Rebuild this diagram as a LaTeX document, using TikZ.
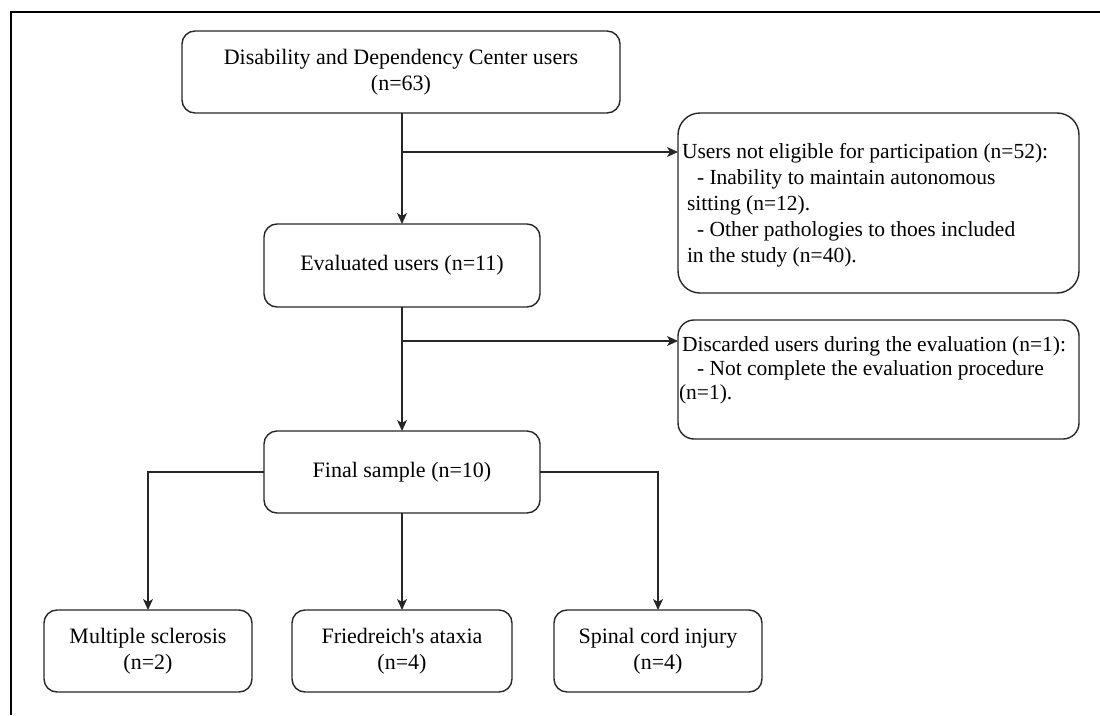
\documentclass[tikz,border=0pt]{standalone}
\usepackage{fontspec}
\setmainfont{Liberation Serif}[Ligatures=TeXOff]
\usetikzlibrary{arrows.meta}
\begin{document}
\begin{tikzpicture}[x=1pt,y=-1pt,
  box/.style={draw=black!85, line width=1.4pt, rounded corners=13pt, align=center,
    inner sep=0pt, outer sep=0pt, font=\fontsize{22}{26}\selectfont},
  sidebox/.style={draw=black!85, line width=1.4pt, inner sep=0pt, outer sep=0pt, minimum width=401pt},
  sidetext/.style={align=left, inner xsep=1pt, inner ysep=0pt, outer sep=0pt},
  conn/.style={draw=black!85, line width=1.4pt, -{Stealth[length=11pt,width=10pt,inset=3pt]}}
]
\useasboundingbox (0,0) rectangle (1100,715);
\draw[line width=2pt] (11,715) -- (11,12) -- (1100,12);

\node[box, minimum width=438pt, minimum height=82pt] (top) at (401,72)
  {Disability and Dependency Center users\\(n=63)};
\node[box, minimum width=276pt, minimum height=83pt] (eval) at (402,265.5)
  {Evaluated users (n=11)};
\node[box, minimum width=276pt, minimum height=82pt] (final) at (402,472)
  {Final sample (n=10)};
\node[box, minimum width=208pt, minimum height=82pt] (ms) at (148,651)
  {Multiple sclerosis\\(n=2)};
\node[box, minimum width=220pt, minimum height=82pt] (fa) at (402,651)
  {Friedreich's ataxia\\(n=4)};
\node[box, minimum width=208pt, minimum height=82pt] (sci) at (658,651)
  {Spinal cord injury\\(n=4)};

\node[sidebox, rounded corners=22pt, minimum height=180pt] (r1) at (878.5,203) {};
\node[sidetext, anchor=west, font=\fontsize{21.5}{26}\selectfont] (r1t) at ([yshift=-2pt]r1.west)
  {\hspace*{3pt}Users not eligible for participation (n=52):\\
   \hspace*{18pt}- Inability to maintain autonomous\\
   \hspace*{8pt}sitting (n=12).\\
   \hspace*{18pt}- Other pathologies to thoes included\\
   \hspace*{8pt}in the study (n=40).};
\node[sidebox, rounded corners=16pt, minimum height=119pt] (r2) at (878.5,379.5) {};
\node[sidetext, anchor=west, font=\fontsize{21.5}{24}\selectfont] (r2t) at ([yshift=9pt]r2.west)
  {\hspace*{3pt}Discarded users during the evaluation (n=1):\\
   \hspace*{18pt}- Not complete the evaluation procedure\\
   \hspace*{0pt}(n=1).};

\coordinate (b1) at (402,152);
\coordinate (b2) at (402,341);

\draw[conn] (top.south -| eval.north) -- (eval.north);
\draw[conn] (b1) -- (b1 -| r1.west);
\draw[conn] (eval.south) -- (final.north);
\draw[conn] (b2) -- (b2 -| r2.west);
\draw[conn] (final.west) -| (ms.north);
\draw[conn] (final.south) -- (fa.north);
\draw[conn] (final.east) -| (sci.north);
\end{tikzpicture}
\end{document}
